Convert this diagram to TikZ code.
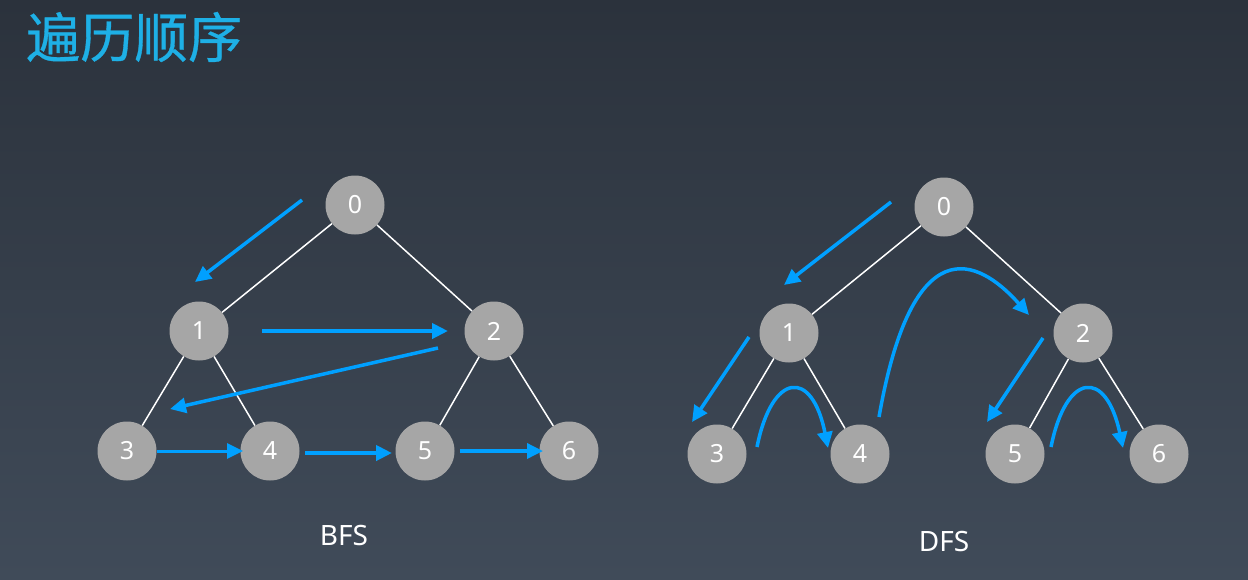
\documentclass[tikz,border=0pt]{standalone}
\usepackage{fontspec}
\setmainfont{Noto Sans}
\newfontfamily\cjkfont[FakeBold=0.6]{Noto Sans CJK SC}
\usetikzlibrary{arrows.meta}

\definecolor{bgtop}{RGB}{43,50,60}
\definecolor{bgbot}{RGB}{64,75,89}
\definecolor{titleblue}{RGB}{30,176,230}
\definecolor{walkblue}{RGB}{0,160,255}
\definecolor{nodegray}{RGB}{166,166,166}

\begin{document}
\begin{tikzpicture}[x=1pt,y=-1pt]
            \tikzstyle{edge}=[draw=white,line width=1.5pt,-]
            \tikzstyle{vertex}=[circle,fill=nodegray,minimum size=59pt,inner sep=0pt,text=white,font=\fontsize{25}{25}\selectfont]
            \tikzstyle{walk}=[draw=walkblue,line width=3.5pt,-{Triangle[length=16pt,width=15pt]}]
            \tikzstyle{caption}=[text=white,font=\fontsize{28}{28}\selectfont]

            % background
            \shade[top color=bgtop,bottom color=bgbot] (0,0) rectangle (1248,579);
            \node[anchor=west,inner sep=0pt,text=titleblue,font=\cjkfont\fontsize{54}{54}\selectfont] (title) at (26,37) {遍历顺序};

            % BFS tree
            \node[vertex] (b0) at (355,205) {0};
            \node[vertex] (b1) at (199,331) {1};
            \node[vertex] (b2) at (494,331) {2};
            \node[vertex] (b3) at (127,451) {3};
            \node[vertex] (b4) at (270,451) {4};
            \node[vertex] (b5) at (425,451) {5};
            \node[vertex] (b6) at (569,451) {6};

            \path[edge] (b0) -- (b1);
            \path[edge] (b0) -- (b2);
            \path[edge] (b1) -- (b3);
            \path[edge] (b1) -- (b4);
            \path[edge] (b2) -- (b5);
            \path[edge] (b2) -- (b6);

            \node[caption] (bfs) at (344,535) {BFS};

            % BFS order
            \coordinate (bs1) at (302,200); \coordinate (be1) at (195,282);
            \coordinate (bs2) at (262,331); \coordinate (be2) at (448,331);
            \coordinate (bs3) at (438,348); \coordinate (be3) at (170,409);
            \coordinate (bs4) at (157,451); \coordinate (be4) at (243,451);
            \coordinate (bs5) at (305,453); \coordinate (be5) at (392,453);
            \coordinate (bs6) at (460,451); \coordinate (be6) at (543,451);

            \path[walk] (bs1) -- (be1);
            \path[walk,line width=4pt] (bs2) -- (be2);
            \path[walk] (bs3) -- (be3);
            \path[walk,line width=3pt] (bs4) -- (be4);
            \path[walk,line width=4pt] (bs5) -- (be5);
            \path[walk] (bs6) -- (be6);

            % DFS tree
            \node[vertex] (d0) at (944,207) {0};
            \node[vertex] (d1) at (789,333) {1};
            \node[vertex] (d2) at (1083,333) {2};
            \node[vertex] (d3) at (717,454) {3};
            \node[vertex] (d4) at (860,454) {4};
            \node[vertex] (d5) at (1015,454) {5};
            \node[vertex] (d6) at (1159,454) {6};

            \path[edge] (d0) -- (d1);
            \path[edge] (d0) -- (d2);
            \path[edge] (d1) -- (d3);
            \path[edge] (d1) -- (d4);
            \path[edge] (d2) -- (d5);
            \path[edge] (d2) -- (d6);

            \node[caption] (dfs) at (944,541) {DFS};

            % DFS order
            \coordinate (ds1) at (891,202);  \coordinate (de1) at (784,285);
            \coordinate (ds2) at (749,337);  \coordinate (de2) at (692,422);
            \coordinate (ds3) at (757,447);  \coordinate (de3) at (828,448);
            \coordinate (ds4) at (879,417);  \coordinate (de4) at (1029,315);
            \coordinate (ds5) at (1043,338); \coordinate (de5) at (987,422);
            \coordinate (ds6) at (1051,447); \coordinate (de6) at (1123,448);

            \path[walk] (ds1) -- (de1);
            \path[walk] (ds2) -- (de2);
            \path[walk] (ds3) .. controls (772,372) and (812,368) .. (de3);
            \path[walk] (ds4) .. controls (915,212) and (987,268) .. (de4);
            \path[walk] (ds5) -- (de5);
            \path[walk] (ds6) .. controls (1066,372) and (1106,368) .. (de6);
\end{tikzpicture}
\end{document}
